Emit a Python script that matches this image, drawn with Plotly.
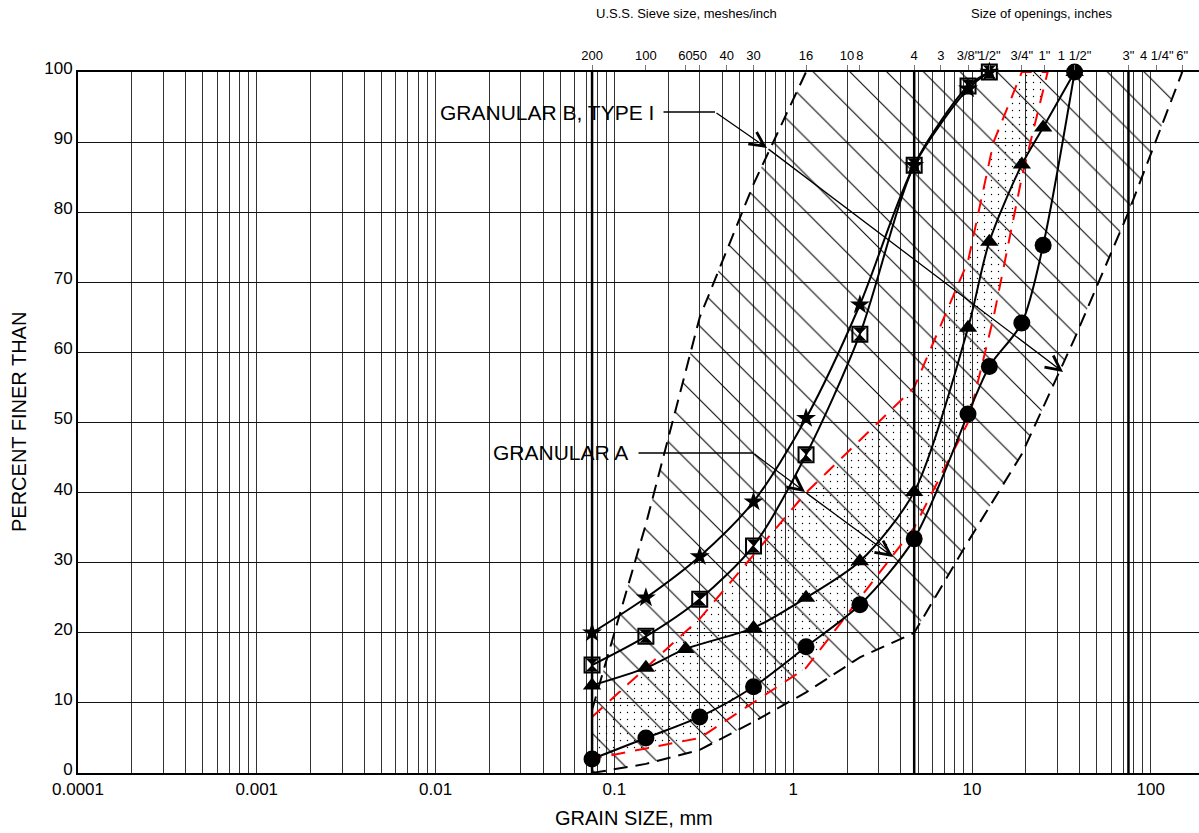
import math
import plotly.graph_objects as go

# ---------------- data ----------------
# sample gradations: grain size (mm) and percent finer
star_mm = [0.075, 0.15, 0.3, 0.6, 1.18, 2.36, 4.75, 9.5, 12.5]
star_pct = [20, 25, 30.9, 38.7, 50.6, 66.8, 86.7, 97.6, 100]

hour_mm = [0.075, 0.15, 0.3, 0.6, 1.18, 2.36, 4.75, 9.5, 12.5]
hour_pct = [15.4, 19.5, 24.8, 32.4, 45.4, 62.6, 86.7, 98, 100]

tri_mm = [0.075, 0.15, 0.25, 0.6, 1.18, 2.36, 4.75, 9.5, 12.5, 19, 25, 37.5]
tri_pct = [12.5, 15, 17.7, 20.7, 25, 30.2, 40.1, 63.5, 75.8, 86.8, 92.1, 100]

circ_mm = [0.075, 0.15, 0.3, 0.6, 1.18, 2.36, 4.75, 9.5, 12.5, 19, 25, 37.5]
circ_pct = [2, 5, 8, 12.3, 18, 24, 33.4, 51.2, 58, 64.2, 75.3, 100]

# Granular A envelope
a_mm = [0.075, 0.3, 1.18, 4.75, 9.5, 13.2, 19, 26.5]
a_upper = [8, 22, 40, 55, 73, 90, 100, 100]
a_lower = [2, 5, 15, 35, 50, 65, 85, 100]

# Granular B, Type I envelope
b_upper_mm = [0.075, 0.15, 0.3, 0.6, 1.18]
b_upper = [9, 35.5, 65, 84, 100]
b_lower_mm = [0.075, 0.15, 0.3, 0.6, 1.18, 2.36, 4.75, 9.5, 19, 37.5, 75, 150]
b_lower = [0, 1.3, 3.3, 7.3, 11.5, 16.5, 20, 33, 45.5, 62, 80, 100]

# heavy reference lines (mm)
boundary_mm = [0.075, 4.75, 75]

# top axis: sieve sizes / openings
top_mm = [0.075, 0.15, 0.25, 0.3, 0.425, 0.6, 1.18, 2.0, 2.36, 4.75, 6.7,
          9.5, 12.5, 19, 25.4, 37.5, 75, 108, 150]
top_labels = ["200", "100", "60", "50", "40", "30", "16", "10", "8", "4", "3",
              '3/8"', '1/2"', '3/4"', '1"', '1 1/2"', '3"', '4 1/4"', '6"']

bottom_decades = [0.0001, 0.001, 0.01, 0.1, 1, 10, 100]
bottom_labels = ["0.0001", "0.001", "0.01", "0.1", "1", "10", "100"]

# ---------------- layout geometry ----------------
W, H = 1199, 833
L, R, T, B = 78, 0, 72, 60
PXDEC = 178.8
XMIN = -4
XMAX = XMIN + (W - L - R) / PXDEC
PLOT_H = H - T - B

FONT = "Liberation Sans, Arial, sans-serif"


def lx(px):  # pixel x -> log10 data
    return (px - L) / PXDEC + XMIN


def ly(py):  # pixel y -> percent
    return (T + PLOT_H - py) / PLOT_H * 100


def paper_x(px):
    return (px - L) / (W - L - R)


def paper_y(py):
    return (T + PLOT_H - py) / PLOT_H


fig = go.Figure()

# Granular B envelope (hatched)
bx = b_lower_mm + b_upper_mm[::-1] + [b_lower_mm[0]]
by = b_lower + b_upper[::-1] + [b_lower[0]]
fig.add_trace(go.Scatter(
    x=bx, y=by, mode="lines", fill="toself",
    fillcolor="rgba(0,0,0,0)", line=dict(width=0, color="rgba(0,0,0,0)"),
    fillpattern=dict(shape="\\", size=26, solidity=0.04, fgcolor="black",
                     fgopacity=1, bgcolor="rgba(0,0,0,0)", fillmode="overlay"),
    hoverinfo="skip", showlegend=False))

# Granular A envelope (stippled, red dashed)
ax_ = a_mm + a_mm[::-1] + [a_mm[0]]
ay_ = a_upper + a_lower[::-1] + [a_upper[0]]
fig.add_trace(go.Scatter(
    x=ax_, y=ay_, mode="lines", fill="toself",
    fillcolor="rgba(0,0,0,0)",
    line=dict(width=2, color="#ff0000", dash="14px,10px"),
    fillpattern=dict(shape=".", size=7, solidity=0.03, fgcolor="black",
                     fgopacity=1, bgcolor="rgba(0,0,0,0)", fillmode="overlay"),
    hoverinfo="skip", showlegend=False))

# B dashed boundaries
for xs, ys in [(b_upper_mm, b_upper), (b_lower_mm, b_lower)]:
    fig.add_trace(go.Scatter(
        x=xs, y=ys, mode="lines",
        line=dict(width=2, color="black", dash="14px,8px"),
        hoverinfo="skip", showlegend=False))

# heavy boundary lines
for m in boundary_mm:
    fig.add_trace(go.Scatter(
        x=[m, m], y=[0, 100], mode="lines",
        line=dict(width=2.5, color="black"),
        hoverinfo="skip", showlegend=False))

# sample curves
line_style = dict(width=2, color="black", shape="spline", smoothing=0.8)
fig.add_trace(go.Scatter(x=star_mm, y=star_pct, mode="lines+markers",
                         line=line_style,
                         marker=dict(symbol="star", size=15, color="black"),
                         cliponaxis=False, showlegend=False))
fig.add_trace(go.Scatter(x=hour_mm, y=hour_pct, mode="lines+markers",
                         line=line_style,
                         marker=dict(symbol="hourglass", size=13, color="black"),
                         cliponaxis=False, showlegend=False))
fig.add_trace(go.Scatter(x=hour_mm, y=hour_pct, mode="markers",
                         marker=dict(symbol="square-open", size=15, color="black",
                                     line=dict(width=2, color="black")),
                         cliponaxis=False, showlegend=False))
fig.add_trace(go.Scatter(x=tri_mm, y=tri_pct, mode="lines+markers",
                         line=line_style,
                         marker=dict(symbol="triangle-up", size=16, color="black"),
                         cliponaxis=False, showlegend=False))
fig.add_trace(go.Scatter(x=circ_mm, y=circ_pct, mode="lines+markers",
                         line=line_style,
                         marker=dict(symbol="circle", size=17, color="black"),
                         cliponaxis=False, showlegend=False))

# dummy trace to anchor the top axis
fig.add_trace(go.Scatter(x=[1], y=[50], xaxis="x2", mode="markers",
                         marker=dict(opacity=0), hoverinfo="skip",
                         showlegend=False))

# ---------------- axes ----------------
grid_vals, tick_text = [], []
for e in range(-4, 3):
    for k in range(1, 10):
        v = k * 10 ** e
        if math.log10(v) <= XMAX + 1e-9:
            grid_vals.append(v)
            lab = ""
            for d, t in zip(bottom_decades, bottom_labels):
                if abs(v - d) / d < 1e-9:
                    lab = t
            tick_text.append(lab)

fig.update_layout(
    width=W, height=H,
    margin=dict(l=L, r=R, t=T, b=B, autoexpand=False),
    paper_bgcolor="white", plot_bgcolor="white",
    font=dict(family=FONT, color="black"),
    showlegend=False,
    xaxis=dict(type="log", range=[XMIN, XMAX], tickmode="array",
               tickvals=grid_vals, ticktext=tick_text,
               showgrid=True, gridcolor="#333333", gridwidth=1,
               showline=True, linecolor="black", linewidth=2,
               ticks="", tickfont=dict(size=17), tickangle=0,
               zeroline=False, automargin=False),
    xaxis2=dict(type="log", range=[XMIN, XMAX], overlaying="x", side="top",
                anchor="y", tickmode="array", tickvals=top_mm,
                ticktext=top_labels, ticks="outside", ticklen=5,
                tickcolor="#777", tickwidth=1, tickangle=0,
                tickfont=dict(size=13), showgrid=False,
                showline=True, linecolor="black", linewidth=2,
                zeroline=False, automargin=False),
    yaxis=dict(range=[0, 100], tickmode="array",
               tickvals=list(range(0, 101, 10)),
               showgrid=True, gridcolor="#111111", gridwidth=1,
               showline=True, linecolor="black", linewidth=2,
               ticks="", tickfont=dict(size=17), zeroline=False,
               ticklabelshift=-4, automargin=False),
)

ann = []
# axis titles
ann.append(dict(text="GRAIN SIZE, mm", xref="paper", yref="paper",
                x=paper_x(634), y=paper_y(818), showarrow=False,
                font=dict(size=20), xanchor="center", yanchor="middle"))
ann.append(dict(text="PERCENT FINER THAN", xref="paper", yref="paper",
                x=paper_x(19), y=paper_y(422), showarrow=False, textangle=-90,
                font=dict(size=20), xanchor="center", yanchor="middle"))
ann.append(dict(text="U.S.S. Sieve size, meshes/inch", xref="paper", yref="paper",
                x=paper_x(686), y=paper_y(14), showarrow=False,
                font=dict(size=13), xanchor="center", yanchor="middle"))
ann.append(dict(text="Size of openings, inches", xref="paper", yref="paper",
                x=paper_x(1041), y=paper_y(14), showarrow=False,
                font=dict(size=13), xanchor="center", yanchor="middle"))
# envelope labels
ann.append(dict(text="GRANULAR B, TYPE I", xref="paper", yref="paper",
                x=paper_x(547), y=paper_y(112), showarrow=False,
                font=dict(size=21), xanchor="center", yanchor="middle"))
ann.append(dict(text="GRANULAR A", xref="paper", yref="paper",
                x=paper_x(560), y=paper_y(453), showarrow=False,
                font=dict(size=21), xanchor="center", yanchor="middle"))


def leader(p_from, p_to, head):
    return dict(text="", xref="x", yref="y", x=lx(p_to[0]), y=ly(p_to[1]),
                ax=p_from[0] - p_to[0], ay=p_from[1] - p_to[1],
                axref="pixel", ayref="pixel", showarrow=True,
                arrowhead=head, arrowsize=2.2, arrowwidth=1.3,
                arrowcolor="black", standoff=0, startstandoff=0)


ann.append(leader((662, 112), (715, 112), 0))
ann.append(leader((715, 112), (767, 148), 5))
ann.append(leader((767, 148), (1063, 372), 5))
ann.append(leader((637, 453), (753, 453), 0))
ann.append(leader((753, 453), (805, 492), 5))
ann.append(leader((805, 492), (893, 557), 5))
fig.update_layout(annotations=ann)

fig.write_html(
    "out.html",
    config={"displayModeBar": False},
    post_script="document.body.style.margin='0';document.body.style.overflow='hidden';",
)
